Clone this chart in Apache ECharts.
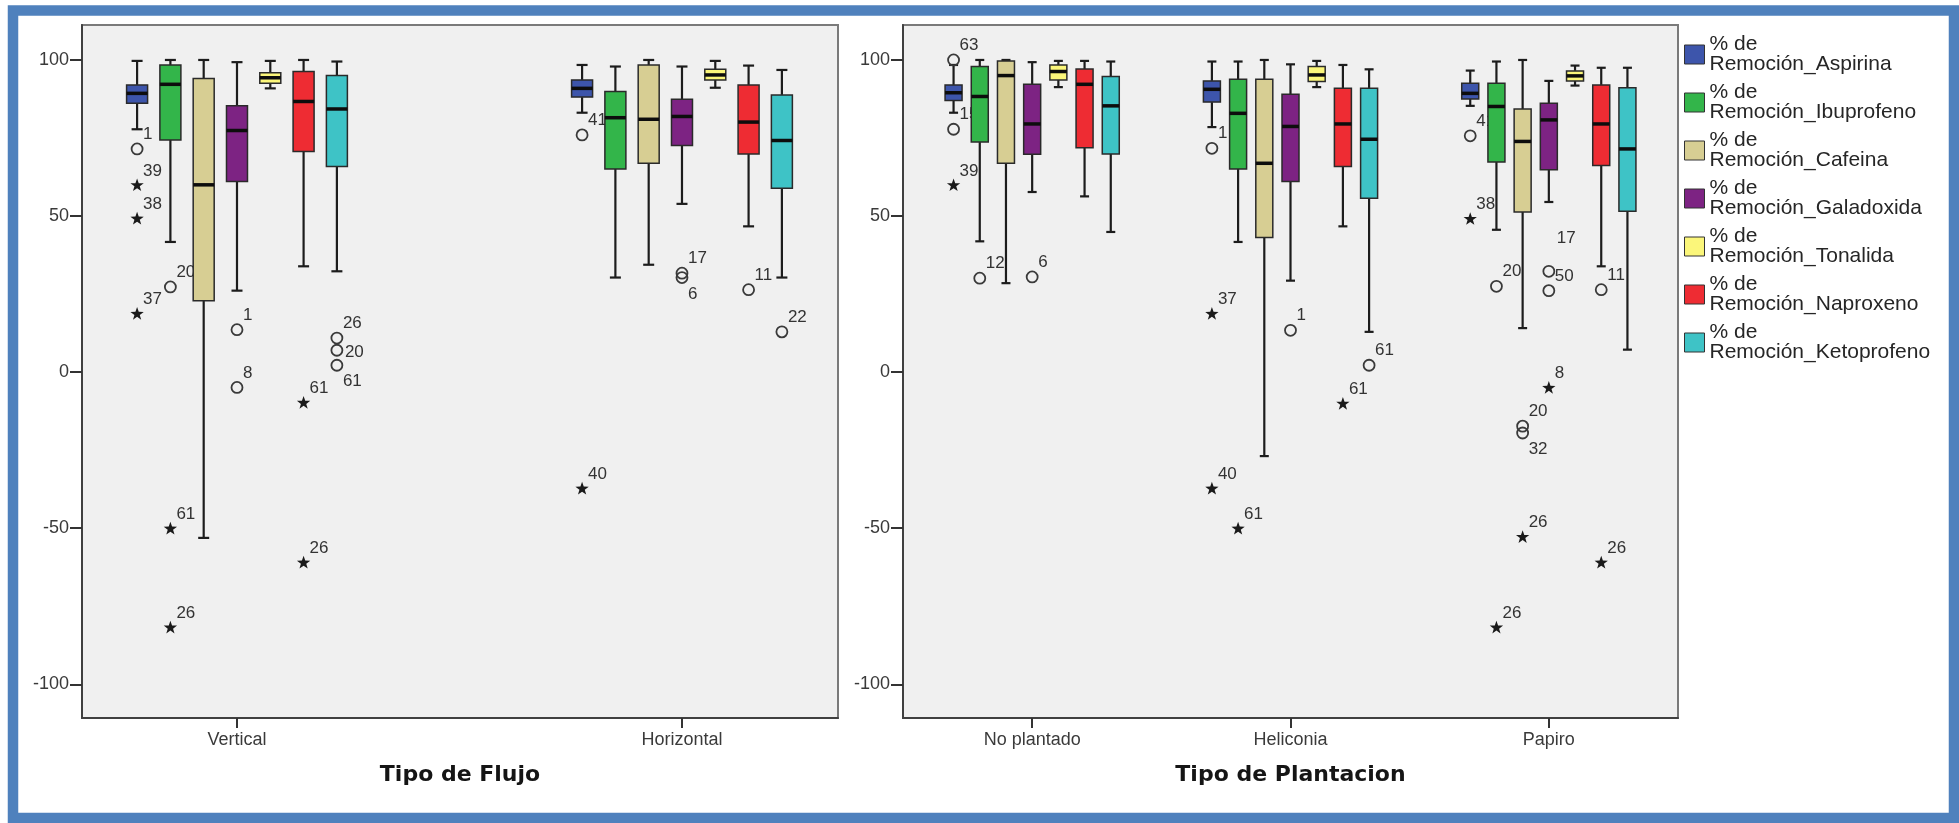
<!DOCTYPE html>
<html>
<head>
<meta charset="utf-8">
<script src="https://cdn.jsdelivr.net/npm/echarts@6/dist/echarts.min.js"></script>
<style>
html,body{margin:0;padding:0;background:#ffffff;}
#chart{width:1959px;height:823px;}
</style>
</head>
<body>
<div id="chart"></div>
<script>
// ---------------- DATA ----------------
const drugNames = [
  '% de Remoción_Aspirina', '% de Remoción_Ibuprofeno', '% de Remoción_Cafeina',
  '% de Remoción_Galadoxida', '% de Remoción_Tonalida', '% de Remoción_Naproxeno',
  '% de Remoción_Ketoprofeno'
];
const flujoCategories = ['Vertical', 'Horizontal'];
const plantacionCategories = ['No plantado', 'Heliconia', 'Papiro'];
const yTickValues = [-100, -50, 0, 50, 100];

// box statistics per category: [min whisker, Q1, median, Q3, max whisker]
const flujoAspirina    = [[77.8, 86.1, 89.3, 92.0, 99.7], [83.1, 88.1, 90.9, 93.6, 98.4]];
const flujoIbuprofeno  = [[41.7, 74.4, 92.2, 98.4, 100.0], [30.3, 65.1, 81.5, 89.9, 97.9]];
const flujoCafeina     = [[-53.1, 22.9, 60.0, 94.1, 100.0], [34.4, 66.9, 81.0, 98.4, 100.0]];
const flujoGaladoxida  = [[26.1, 61.1, 77.4, 85.3, 99.3], [53.9, 72.6, 81.9, 87.4, 97.9]];
const flujoTonalida    = [[90.9, 92.5, 94.3, 95.9, 99.7], [91.1, 93.6, 95.2, 97.0, 99.7]];
const flujoNaproxeno   = [[33.9, 70.7, 86.7, 96.3, 100.0], [46.7, 69.9, 80.1, 92.0, 98.2]];
const flujoKetoprofeno = [[32.3, 65.9, 84.3, 95.0, 99.5], [30.3, 58.9, 74.2, 88.8, 96.8]];

const plantAspirina    = [[83.1, 87.0, 89.5, 92.0, 98.4], [78.5, 86.5, 90.6, 93.3, 99.5], [85.3, 87.5, 89.3, 92.5, 96.6]];
const plantIbuprofeno  = [[41.9, 73.7, 88.3, 97.9, 100.0], [41.7, 65.1, 82.9, 93.8, 99.5], [45.6, 67.3, 85.1, 92.5, 99.5]];
const plantCafeina     = [[28.5, 66.9, 95.0, 99.7, 100.0], [-26.9, 43.1, 66.9, 93.8, 100.0], [14.1, 51.3, 73.9, 84.3, 100.0]];
const plantGaladoxida  = [[57.7, 69.8, 79.5, 92.2, 99.3], [29.3, 61.1, 78.7, 89.0, 98.6], [54.5, 64.8, 80.8, 86.1, 93.3]];
const plantTonalida    = [[91.3, 93.6, 96.3, 98.4, 99.7], [91.3, 93.1, 95.2, 97.9, 99.7], [91.8, 93.3, 94.9, 96.5, 98.2]];
const plantNaproxeno   = [[56.3, 71.9, 92.2, 97.1, 99.7], [46.7, 65.9, 79.5, 90.9, 98.4], [33.9, 66.2, 79.5, 92.0, 97.5]];
const plantKetoprofeno = [[44.9, 69.9, 85.3, 94.7, 99.5], [12.9, 55.7, 74.6, 90.9, 97.0], [7.2, 51.5, 71.5, 91.1, 97.5]];

// outliers: [category index, drug index, value, case id, kind ('o' outlier, '*' extreme)]
const flujoOutliers = [
  [0, 0, 71.5, '1', 'o'], [0, 0, 59.8, '39', '*'], [0, 0, 49.1, '38', '*'], [0, 0, 18.6, '37', '*'],
  [0, 1, 27.3, '20', 'o'], [0, 1, -50.2, '61', '*'], [0, 1, -81.9, '26', '*'],
  [0, 3, 13.6, '1', 'o'], [0, 3, -4.9, '8', 'o'],
  [0, 5, -9.9, '61', '*'], [0, 5, -61.1, '26', '*'],
  [0, 6, 10.9, '26', 'o'], [0, 6, 7.0, '20', 'o'], [0, 6, 2.2, '61', 'o'],
  [1, 0, 76.0, '41', 'o'], [1, 0, -37.4, '40', '*'],
  [1, 3, 31.7, '17', 'o'], [1, 3, 30.3, '6', 'o'],
  [1, 5, 26.4, '11', 'o'],
  [1, 6, 12.9, '22', 'o']
];
const plantOutliers = [
  [0, 0, 100.0, '63', 'o'], [0, 0, 77.8, '15', 'o'], [0, 0, 59.8, '39', '*'],
  [0, 1, 30.1, '12', 'o'],
  [0, 3, 30.5, '6', 'o'],
  [1, 0, 71.7, '1', 'o'], [1, 0, 18.6, '37', '*'], [1, 0, -37.4, '40', '*'],
  [1, 1, -50.2, '61', '*'],
  [1, 3, 13.4, '1', 'o'],
  [1, 5, -10.2, '61', '*'],
  [1, 6, 2.2, '61', 'o'],
  [2, 0, 75.7, '41', 'o'], [2, 0, 49.0, '38', '*'],
  [2, 1, 27.5, '20', 'o'], [2, 1, -81.9, '26', '*'],
  [2, 2, -17.3, '20', 'o'], [2, 2, -19.5, '32', 'o'], [2, 2, -52.9, '26', '*'],
  [2, 3, 32.3, '17', 'o'], [2, 3, 26.1, '50', 'o'], [2, 3, -5.1, '8', '*'],
  [2, 5, 26.4, '11', 'o'], [2, 5, -61.1, '26', '*']
];

// ---------------- STYLE ----------------
const drugColors = ['#3D55AB', '#33B54A', '#D7CE93', '#7D2383', '#FBF67A', '#EE2C33', '#3EC3C6'];
const labelSide = {
  'f|0|6|20': 'r', 'f|0|6|61': 'br', 'f|1|3|6': 'br',
  'p|2|2|32': 'br', 'p|2|3|17': 'tr2'
};
const tickFont = '"Liberation Sans", Arial, sans-serif';

const flujoBoxes = [flujoAspirina, flujoIbuprofeno, flujoCafeina, flujoGaladoxida, flujoTonalida, flujoNaproxeno, flujoKetoprofeno];
const plantBoxes = [plantAspirina, plantIbuprofeno, plantCafeina, plantGaladoxida, plantTonalida, plantNaproxeno, plantKetoprofeno];

function starPoints(cx, cy, R, r) {
  const pts = [];
  for (let i = 0; i < 10; i++) {
    const a = -Math.PI / 2 + i * Math.PI / 5;
    const rr = i % 2 === 0 ? R : r;
    pts.push([cx + rr * Math.cos(a), cy + rr * Math.sin(a)]);
  }
  return pts;
}

function boxRender(k, stepPx, boxW, capW) {
  return function (params, api) {
    const cat = api.value(0);
    const cx = api.coord([cat, 0])[0] + (k - 3) * stepPx;
    const y = i => api.coord([cat, api.value(i)])[1];
    const yMin = y(1), yQ1 = y(2), yMed = y(3), yQ3 = y(4), yMax = y(5);
    const wl = { stroke: '#1c1c1c', lineWidth: 2.2 };
    return {
      type: 'group',
      children: [
        { type: 'line', shape: { x1: cx, y1: yMax, x2: cx, y2: yQ3 }, style: wl },
        { type: 'line', shape: { x1: cx, y1: yQ1, x2: cx, y2: yMin }, style: wl },
        { type: 'line', shape: { x1: cx - capW / 2, y1: yMax, x2: cx + capW / 2, y2: yMax }, style: wl },
        { type: 'line', shape: { x1: cx - capW / 2, y1: yMin, x2: cx + capW / 2, y2: yMin }, style: wl },
        { type: 'rect', shape: { x: cx - boxW / 2, y: yQ3, width: boxW, height: yQ1 - yQ3 },
          style: { fill: drugColors[k], stroke: '#2a2a2a', lineWidth: 1.5 } },
        { type: 'line', shape: { x1: cx - boxW / 2, y1: yMed, x2: cx + boxW / 2, y2: yMed },
          style: { stroke: '#0d0d0d', lineWidth: 3.5 } }
      ]
    };
  };
}

function outlierRender(list, panel, k, stepPx) {
  return function (params, api) {
    const o = list[params.dataIndex];
    const p = api.coord([api.value(0), api.value(1)]);
    const cx = p[0] + (k - 3) * stepPx, cy = p[1];
    const children = [];
    if (o[4] === 'o') {
      children.push({ type: 'circle', shape: { cx: cx, cy: cy, r: 5.5 },
        style: { fill: 'none', stroke: '#3a3a3a', lineWidth: 1.8 } });
    } else {
      children.push({ type: 'polygon', shape: { points: starPoints(cx, cy, 7, 2.8) },
        style: { fill: '#1a1a1a' } });
    }
    const side = labelSide[panel + '|' + o[0] + '|' + o[1] + '|' + o[3]] || 'tr';
    let tx = cx + 6, ty = cy - 6, va = 'bottom';
    if (side === 'r') { tx = cx + 8; ty = cy + 2; va = 'middle'; }
    else if (side === 'br') { tx = cx + 6; ty = cy + 8; va = 'top'; }
    else if (side === 'tr2') { tx = cx + 8; ty = cy - 24; va = 'bottom'; }
    children.push({ type: 'text', x: tx, y: ty,
      style: { text: o[3], fill: '#333333', font: '17px ' + tickFont, align: 'left', verticalAlign: va } });
    return { type: 'group', children: children };
  };
}

function buildSeries(boxes, outliers, panel, axisIdx, stepPx, boxW, capW) {
  const out = [];
  boxes.forEach(function (b, k) {
    out.push({
      type: 'custom', name: drugNames[k], xAxisIndex: axisIdx, yAxisIndex: axisIdx,
      itemStyle: { color: drugColors[k] },
      encode: { x: 0, y: [1, 2, 3, 4, 5] },
      data: b.map(function (s, i) { return [i].concat(s); }),
      renderItem: boxRender(k, stepPx, boxW, capW),
      silent: true
    });
    const list = outliers.filter(function (o) { return o[1] === k; });
    if (list.length) {
      out.push({
        type: 'custom', xAxisIndex: axisIdx, yAxisIndex: axisIdx,
        encode: { x: 0, y: 1 },
        data: list.map(function (o) { return [o[0], o[2]]; }),
        renderItem: outlierRender(list, panel, k, stepPx),
        silent: true
      });
    }
  });
  return out;
}

function xAxisFor(gridIndex, cats, min, max, title) {
  const vals = cats.map(function (c, i) { return i; });
  return {
    type: 'value', gridIndex: gridIndex, min: min, max: max,
    axisLine: { show: true, onZero: false, lineStyle: { color: '#404040', width: 2 } },
    axisTick: { show: true, customValues: vals, length: 10, lineStyle: { color: '#333', width: 2 } },
    axisLabel: { customValues: vals, formatter: function (v) { return cats[Math.round(v)]; },
      margin: 13, fontSize: 18, color: '#3a3a3a', fontFamily: tickFont },
    splitLine: { show: false },
    name: title, nameLocation: 'middle', nameGap: 46,
    nameTextStyle: { fontSize: 22, fontWeight: 'bold', color: '#151515', fontFamily: '"DejaVu Sans", sans-serif' }
  };
}
function yAxisFor(gridIndex) {
  return {
    type: 'value', gridIndex: gridIndex, min: -110.8, max: 111.2,
    axisLine: { show: true, onZero: false, lineStyle: { color: '#404040', width: 2 } },
    axisTick: { show: true, customValues: yTickValues, length: 12, lineStyle: { color: '#333', width: 2 } },
    axisLabel: { customValues: yTickValues, margin: 13, fontSize: 18, color: '#3a3a3a', fontFamily: tickFont },
    splitLine: { show: false }
  };
}

const chart = echarts.init(document.getElementById('chart'), null, { renderer: 'canvas' });
chart.setOption({
  backgroundColor: '#ffffff',
  animation: false,
  grid: [
    { left: 82, top: 25, width: 756, height: 693, show: true, backgroundColor: '#F0F0F0', borderColor: '#7a7a7a', borderWidth: 2 },
    { left: 903, top: 25, width: 775, height: 693, show: true, backgroundColor: '#F0F0F0', borderColor: '#7a7a7a', borderWidth: 2 }
  ],
  xAxis: [
    xAxisFor(0, flujoCategories, -0.3483, 1.3506, 'Tipo de Flujo'),
    xAxisFor(1, plantacionCategories, -0.5, 2.5, 'Tipo de Plantacion')
  ],
  yAxis: [yAxisFor(0), yAxisFor(1)],
  legend: {
    data: drugNames, orient: 'vertical', left: 1679, top: 29,
    itemWidth: 20, itemHeight: 19, itemGap: 7, icon: 'rect', selectedMode: false,
    itemStyle: { borderColor: '#333', borderWidth: 1 },
    formatter: function (n) { return n.replace(' Remoción', '\nRemoción'); },
    textStyle: { fontSize: 21, lineHeight: 20, color: '#262626', fontFamily: tickFont }
  },
  graphic: [
    { type: 'rect', silent: true, z: 100,
      shape: { x: 13, y: 10.5, width: 1941, height: 807.5 },
      style: { fill: 'none', stroke: '#4F81BD', lineWidth: 10.5 } }
  ],
  series: buildSeries(flujoBoxes, flujoOutliers, 'f', 0, 33.3, 21, 11)
    .concat(buildSeries(plantBoxes, plantOutliers, 'p', 1, 26.2, 17, 9))
});
</script>
</body>
</html>
